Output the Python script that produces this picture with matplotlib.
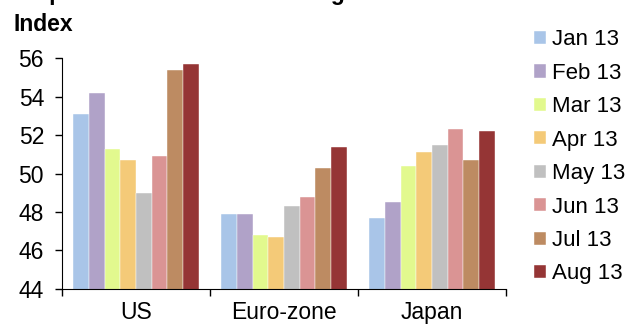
import numpy as np
import matplotlib.pyplot as plt

plt.rcParams["font.family"] = ["Liberation Sans", "DejaVu Sans"]

regions = ["US", "Euro-zone", "Japan"]
months = ["Jan 13", "Feb 13", "Mar 13", "Apr 13", "May 13", "Jun 13", "Jul 13", "Aug 13"]
us = [53.1, 54.2, 51.3, 50.7, 49.0, 50.9, 55.4, 55.7]
euro = [47.9, 47.9, 46.8, 46.7, 48.3, 48.8, 50.3, 51.4]
japan = [47.7, 48.5, 50.4, 51.1, 51.5, 52.3, 50.7, 52.2]
colors = ["#A9C5E8", "#B0A2C8", "#E2F98E", "#F4CA78",
          "#C0C0C0", "#DA9494", "#BD8B62", "#953535"]

values = np.array([us, euro, japan])  # rows = regions, cols = months

fig = plt.figure(figsize=(6.27, 3.26), dpi=100)
ax = fig.add_axes([0.099, 0.114, 0.708, 0.707])

x = np.arange(len(regions))
width = 0.106
for i, (m, c) in enumerate(zip(months, colors)):
    offset = (i - (len(months) - 1) / 2) * width
    ax.bar(x + offset, values[:, i], width, bottom=0, color=c, label=m,
           edgecolor="white", linewidth=0.3)

ax.set_ylim(44, 56)
ax.set_xlim(-0.5, len(regions) - 0.5)
ax.set_yticks(np.arange(44, 57, 2))
ax.set_xticks(x)
ax.set_xticklabels(regions)
ax.set_xticks(np.arange(-0.5, len(regions)), minor=True)
ax.tick_params(axis="x", which="major", length=0, labelsize=16.5, pad=9)
ax.tick_params(axis="x", which="minor", length=5, width=1)
ax.tick_params(axis="y", length=5, width=1, labelsize=16.5, pad=8)
for s in ["top", "right"]:
    ax.spines[s].set_visible(False)
ax.spines["left"].set_bounds(44, 56)

fig.text(0.016, 1.0, "Graph 1: Global Manufacturing PMIs", fontsize=16.5,
         fontweight="bold", va="baseline")
fig.text(0.021, 0.905, "Index", fontsize=16.5, fontweight="bold", va="baseline")

ax.legend(loc="upper left", bbox_to_anchor=(0.851, 0.91), bbox_transform=fig.transFigure,
          frameon=False, fontsize=16, handlelength=0.54, handleheight=0.54,
          handletextpad=0.28, labelspacing=0.56, borderaxespad=0, borderpad=0)

fig.savefig("out.png", dpi=100)
